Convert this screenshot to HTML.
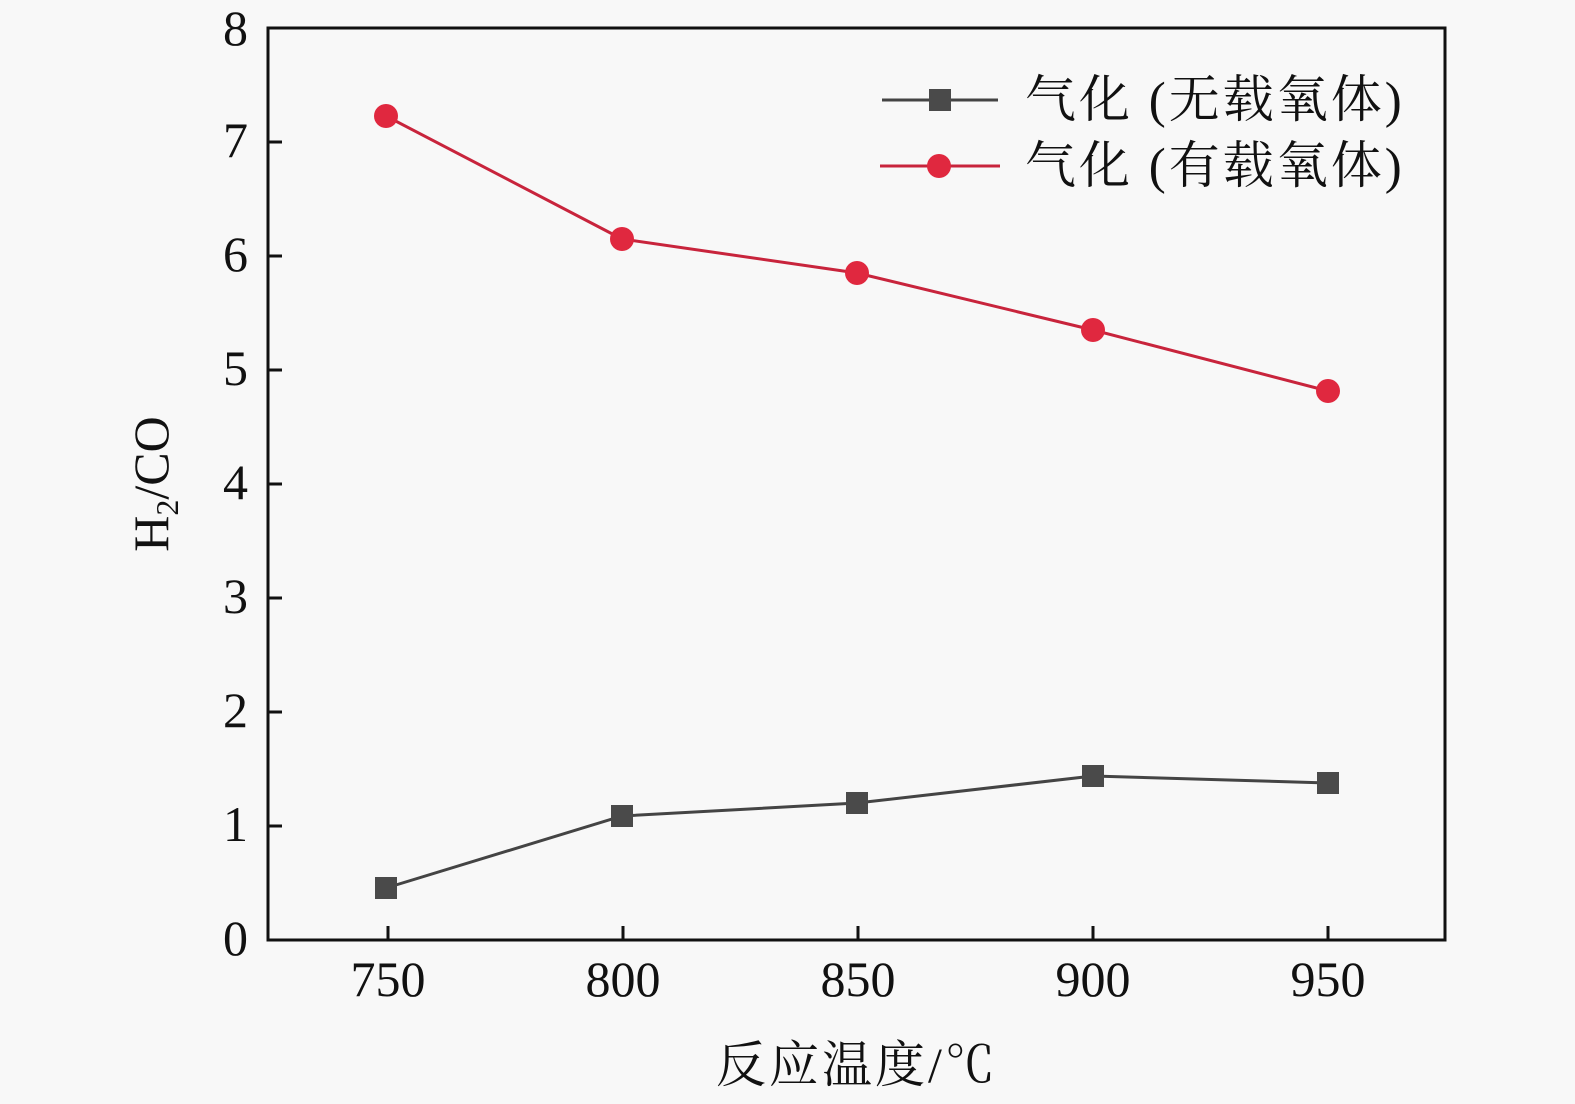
<!DOCTYPE html>
<html><head><meta charset="utf-8"><style>
html,body{margin:0;padding:0;background:#f8f8f8;}
svg{display:block;}
text{font-family:"Liberation Serif","Noto Serif CJK SC",serif;fill:#111;}
</style></head><body>
<svg width="1575" height="1104" viewBox="0 0 1575 1104">
<rect width="1575" height="1104" fill="#f8f8f8"/>
<rect x="268" y="28" width="1177" height="912" fill="none" stroke="#111" stroke-width="3"/>
<g stroke="#111" stroke-width="3">
<line x1="268" y1="826" x2="282" y2="826"/><line x1="268" y1="712" x2="282" y2="712"/>
<line x1="268" y1="598" x2="282" y2="598"/><line x1="268" y1="484" x2="282" y2="484"/>
<line x1="268" y1="370" x2="282" y2="370"/><line x1="268" y1="256" x2="282" y2="256"/>
<line x1="268" y1="142" x2="282" y2="142"/>
<line x1="388" y1="940" x2="388" y2="926"/><line x1="623" y1="940" x2="623" y2="926"/>
<line x1="858" y1="940" x2="858" y2="926"/><line x1="1093" y1="940" x2="1093" y2="926"/>
<line x1="1328" y1="940" x2="1328" y2="926"/>
</g>
<g font-size="50" text-anchor="end">
<text x="248" y="955">0</text><text x="248" y="841">1</text><text x="248" y="727">2</text>
<text x="248" y="613">3</text><text x="248" y="499">4</text><text x="248" y="385">5</text>
<text x="248" y="271">6</text><text x="248" y="157">7</text><text x="248" y="45">8</text>
</g>
<g font-size="50" text-anchor="middle">
<text x="388" y="996">750</text><text x="623" y="996">800</text><text x="858" y="996">850</text>
<text x="1093" y="996">900</text><text x="1328" y="996">950</text>
</g>
<text x="716" y="1082" font-size="50" letter-spacing="3">反应温度/℃</text>
<g transform="translate(168,484) rotate(-90)">
<text x="0" y="0" font-size="50" text-anchor="middle">H<tspan font-size="32" dy="10">2</tspan><tspan dy="-10">/CO</tspan></text>
</g>
<polyline points="386,116 622,239 857,273 1093,330 1328,391" fill="none" stroke="#c8243c" stroke-width="3"/>
<g fill="#e0283f">
<circle cx="386" cy="116" r="12"/><circle cx="622" cy="239" r="12"/><circle cx="857" cy="273" r="12"/>
<circle cx="1093" cy="330" r="12"/><circle cx="1328" cy="391" r="12"/>
</g>
<polyline points="386,888 622,816 857,803 1093,776 1328,783" fill="none" stroke="#444" stroke-width="3"/>
<g fill="#4a4a4a">
<rect x="375" y="877" width="22" height="22"/><rect x="611" y="805" width="22" height="22"/>
<rect x="846" y="792" width="22" height="22"/><rect x="1082" y="765" width="22" height="22"/>
<rect x="1317" y="772" width="22" height="22"/>
</g>
<line x1="882" y1="100" x2="998" y2="100" stroke="#444" stroke-width="3"/>
<rect x="929" y="89" width="22" height="22" fill="#4a4a4a"/>
<line x1="880" y1="166" x2="1000" y2="166" stroke="#c8243c" stroke-width="3"/>
<circle cx="939" cy="166" r="12" fill="#e0283f"/>
<text x="1025" y="117" font-size="51" letter-spacing="3">气化 (无载氧体)</text>
<text x="1025" y="183" font-size="51" letter-spacing="3">气化 (有载氧体)</text>
</svg>
</body></html>
